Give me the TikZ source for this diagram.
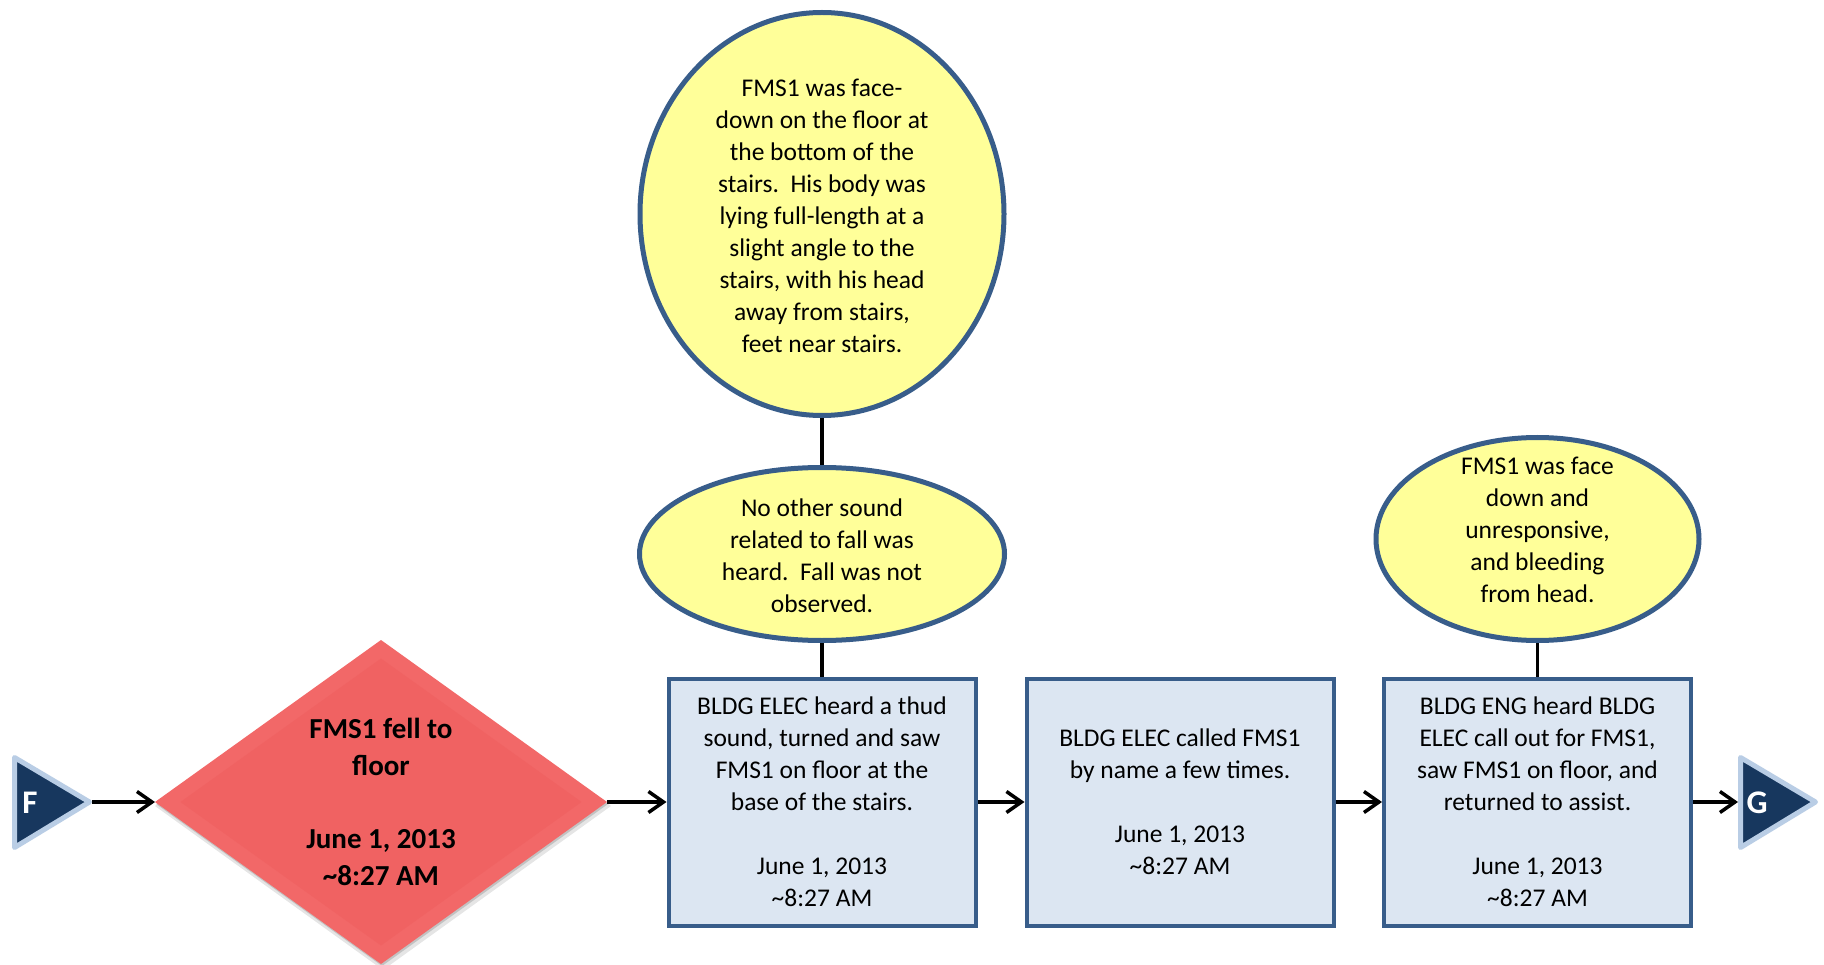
\documentclass[tikz,border=0pt]{standalone}
\usepackage{fontspec}
\setmainfont{Carlito}
\usetikzlibrary{shapes.geometric,arrows.meta}
\definecolor{navy}{RGB}{23,55,94}
\definecolor{paleblue}{RGB}{185,205,229}
\definecolor{boxfill}{RGB}{220,230,242}
\definecolor{edgeblue}{RGB}{56,93,138}
\definecolor{noteyellow}{RGB}{255,255,153}
\definecolor{eventred}{RGB}{240,98,98}
\definecolor{eventedge}{RGB}{242,104,104}

\begin{document}
\begin{tikzpicture}[x=1pt,y=-1pt,
  stepbox/.style={rectangle, draw=edgeblue, line width=4pt, fill=boxfill,
    minimum width=307pt, minimum height=247pt, inner sep=0pt, align=center,
    font=\fontsize{25.5}{32}\selectfont},
  bubble/.style={ellipse, draw=edgeblue, line width=5pt, fill=noteyellow, inner sep=0pt},
  bubbletext/.style={align=center, inner sep=0pt, font=\fontsize{25.5}{32}\selectfont},
  flow/.style={line width=3.5pt, -{Straight Barb[length=15pt,width=21pt]}},
  link/.style={line width=3.5pt},
  offpage/.style={draw=paleblue, fill=navy, line width=5pt, line join=round},
  offpagetext/.style={text=white, inner sep=0pt, font=\fontsize{33}{36}\selectfont\bfseries},
  gem/.style={diamond, inner sep=0pt, outer sep=0pt}
]
\useasboundingbox[fill=white] (0,0) rectangle (1824,965);

% off-page connector F
\draw[offpage] (14.5,757.5) -- (89.5,802) -- (14.5,847.5) -- cycle;
\coordinate (Ftip) at (92,802);
\node[offpagetext] (Flabel) at (30,803) {F};

% off-page connector G
\draw[offpage] (1740.5,757.5) -- (1815.5,802) -- (1740.5,847.5) -- cycle;
\coordinate (Gin) at (1738,802);
\node[offpagetext] (Glabel) at (1757,803) {G};

% the event: soft shadow, bevelled rim, face
\node[gem, fill=black, opacity=0.10, minimum width=456pt, minimum height=328pt] (Dshadow) at (383,806) {};
\node[gem, fill=black, opacity=0.15, minimum width=452pt, minimum height=324pt] (Dshadow2) at (382,804) {};
\node[gem, fill=eventedge, minimum width=452pt, minimum height=324pt] (D) at (381,802) {};
\node[gem, fill=eventred, minimum width=401pt, minimum height=287pt] (Dface) at (381,802) {};
\node[align=center, inner sep=0pt, font=\fontsize{29}{36.75}\selectfont\bfseries]
  (Dtext) at (D) {FMS1 fell to\\floor\\[36.75pt]June 1, 2013\\\textasciitilde8:27 AM};

% actions
\node[stepbox] (B1) at (822,802) {BLDG ELEC heard a thud\\sound, turned and saw\\FMS1 on floor at the\\base of the stairs.\\[32pt]June 1, 2013\\\textasciitilde8:27 AM};
\node[stepbox] (B2) at (1180,802) {BLDG ELEC called FMS1\\by name a few times.\\[32pt]June 1, 2013\\\textasciitilde8:27 AM};
\node[stepbox] (B3) at (1537.5,802) {BLDG ENG heard BLDG\\ELEC call out for FMS1,\\saw FMS1 on floor, and\\returned to assist.\\[32pt]June 1, 2013\\\textasciitilde8:27 AM};

% conditions
\node[bubble, minimum width=364pt, minimum height=403pt] (E1) at (822,214) {};
\node[bubbletext] (E1text) at (822,215.5) {FMS1 was face-\\down on the floor at\\the bottom of the\\stairs.\ \ His body was\\lying full-length at a\\slight angle to the\\stairs, with his head\\away from stairs,\\feet near stairs.};
\node[bubble, minimum width=365pt, minimum height=173pt] (E2) at (822,554) {};
\node[bubbletext] (E2text) at (822,556) {No other sound\\related to fall was\\heard.\ \ Fall was not\\observed.};
\node[bubble, minimum width=323pt, minimum height=203pt] (E3) at (1537.5,539) {};
\node[bubbletext] (E3text) at (1537.5,530) {FMS1 was face\\down and\\unresponsive,\\and bleeding\\from head.};

% connectors
\draw[link] (E1.south) -- (E2.north);
\draw[link] (E2.south) -- (B1.north);
\draw[link] (E3.south) -- (B3.north);
\draw[flow] (Ftip) -- (D.west);
\draw[flow] (D.east) -- (B1.west);
\draw[flow] (B1.east) -- (B2.west);
\draw[flow] (B2.east) -- (B3.west);
\draw[flow] (B3.east) -- (Gin);
\end{tikzpicture}
\end{document}
